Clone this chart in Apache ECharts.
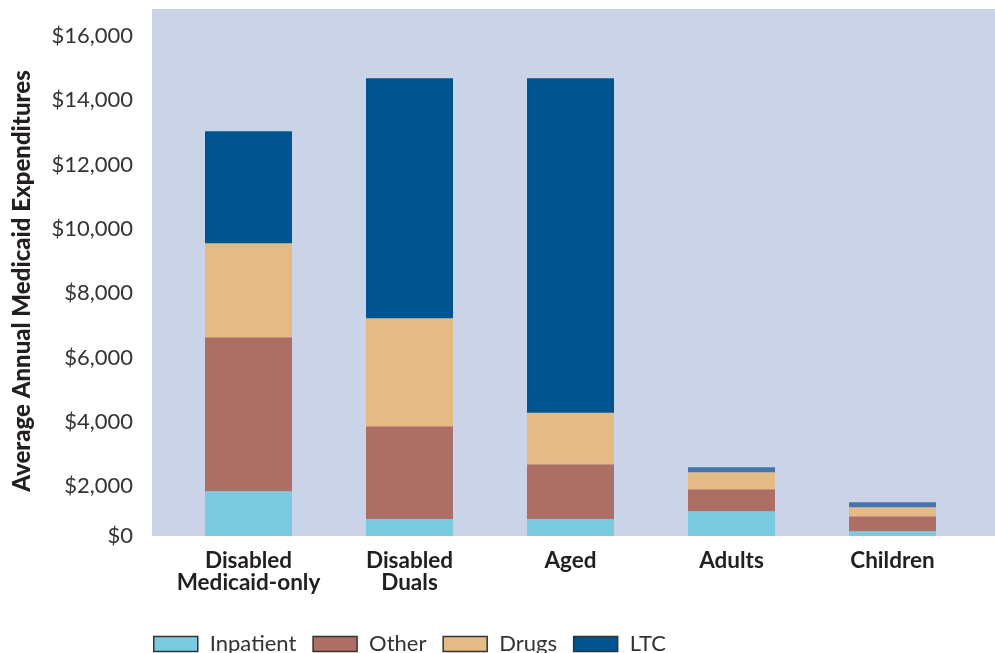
<!DOCTYPE html>
<html>
<head>
<meta charset="utf-8">
<script src="https://cdn.jsdelivr.net/npm/echarts@6/dist/echarts.min.js"></script>
<style>
  html, body { margin: 0; padding: 0; background: #fff; }
  #chart { width: 995px; height: 653px; }
</style>
</head>
<body>
<div id="chart"></div>
<script>
const categories = ['Disabled\nMedicaid-only', 'Disabled\nDuals', 'Aged', 'Adults', 'Children']
const inpatient = [1840, 975, 975, 1220, 600]
const other = [4790, 2890, 1710, 685, 465]
const drugs = [2925, 3360, 1595, 530, 280]
const ltc = [3485, 7465, 10410, 155, 155]
const yTicks = [0, 2000, 4000, 6000, 8000, 10000, 12000, 14000, 16000]

// axis is cut a bit above zero in the original
const yMin = 450
const yMax = 16840

const colors = {
  Inpatient: '#7acbe0',
  Other: '#ad6f65',
  Drugs: '#e5bb85',
  LTC: '#00558f'
}
const font = 'Lato, "Open Sans", sans-serif'

const myChart = echarts.init(document.getElementById('chart'))

function makeSeries(name, values) {
  return {
    name: name,
    type: 'bar',
    stack: 'total',
    barWidth: 87,
    data: values,
    itemStyle: {
      color: name === 'LTC'
        ? p => (p.dataIndex >= 3 ? '#4674ad' : colors.LTC)
        : colors[name]
    }
  }
}

const option = {
  animation: false,
  textStyle: { fontFamily: font },
  graphic: [
    {
      type: 'rect',
      z: -10,
      silent: true,
      shape: { x: 152, y: 9, width: 843, height: 527 },
      style: { fill: '#cad3e7' }
    },
    {
      // y axis title
      type: 'text',
      x: 22,
      y: 281,
      rotation: Math.PI / 2,
      silent: true,
      style: {
        text: 'Average Annual Medicaid Expenditures',
        font: '900 24px Lato, sans-serif',
        fill: '#231f20',
        align: 'center',
        verticalAlign: 'middle'
      }
    }
  ],
  grid: {
    left: 168,
    right: 22,
    top: 9,
    bottom: 117
  },
  legend: {
    left: 148,
    top: 628,
    icon: 'rect',
    itemWidth: 44,
    itemHeight: 15,
    itemGap: 16,
    selectedMode: false,
    itemStyle: { borderColor: '#333', borderWidth: 1.5 },
    textStyle: { fontSize: 22, color: '#333', fontFamily: font, padding: [0, 0, 0, 7] },
    data: Object.keys(colors).map(n => ({ name: n, itemStyle: { color: colors[n] } }))
  },
  xAxis: {
    type: 'category',
    data: categories,
    axisLine: { show: false },
    axisTick: { show: false },
    axisLabel: {
      interval: 0,
      margin: 14,
      fontSize: 22.5,
      fontWeight: 'bold',
      lineHeight: 22,
      color: '#231f20',
      verticalAlign: 'top'
    }
  },
  yAxis: {
    type: 'value',
    min: yMin,
    max: yMax,
    offset: 16,
    axisLine: { show: false },
    splitLine: { show: false },
    axisTick: {
      inside: true,
      length: 17,
      lineStyle: { color: '#333', width: 1.5 },
      customValues: yTicks.filter(v => v > 0)
    },
    axisLabel: {
      margin: 19,
      fontSize: 22,
      color: '#333',
      customValues: yTicks.map(v => Math.max(v, yMin)),
      formatter: v => '$' + (v <= yMin ? 0 : v).toLocaleString('en-US')
    }
  },
  series: [
    makeSeries('Inpatient', inpatient),
    makeSeries('Other', other),
    makeSeries('Drugs', drugs),
    makeSeries('LTC', ltc)
  ]
}

myChart.setOption(option)
window.addEventListener('resize', () => myChart.resize())
</script>
</body>
</html>
